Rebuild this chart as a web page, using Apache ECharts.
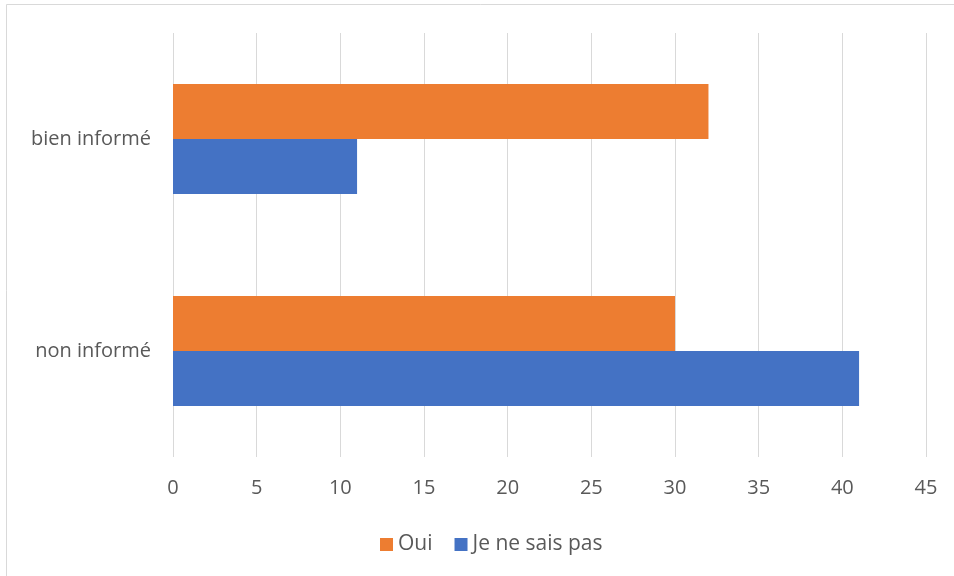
<!DOCTYPE html>
<html><head><meta charset="utf-8">
<script src="https://cdn.jsdelivr.net/npm/echarts@6/dist/echarts.min.js"></script>
<style>html,body{margin:0;padding:0;background:#fff}#c{width:954px;height:576px}</style>
</head><body><div id="c"></div>
<script>
const categories = ['non informé', 'bien informé'];
const seriesNames = ['Oui', 'Je ne sais pas'];
const ouiValues = [30, 32];
const jnspValues = [41, 11];
const xTicks = [0, 5, 10, 15, 20, 25, 30, 35, 40, 45];

const chart = echarts.init(document.getElementById('c'), null, {renderer: 'canvas'});
const font = 'Open Sans';
chart.setOption({
  animation: false,
  backgroundColor: '#fff',
  graphic: [{
    type: 'rect', shape: {x: 6.5, y: 4.5, width: 1000, height: 1000},
    style: {fill: 'none', stroke: '#d9d9d9', lineWidth: 1}, silent: true
  }],
  grid: {left: 173, right: 28, top: 33, bottom: 119, containLabel: false},
  legend: {
    data: seriesNames, top: 529, left: 375,
    itemWidth: 13, itemHeight: 13, itemGap: 22, icon: 'rect',
    textStyle: {color: '#595959', fontSize: 21, fontFamily: font}
  },
  xAxis: {
    type: 'value', min: 0, max: 45, interval: 5,
    axisLine: {show: false}, axisTick: {show: false},
    splitLine: {lineStyle: {color: '#d9d9d9', width: 1}},
    axisLabel: {color: '#595959', fontSize: 20, fontFamily: font, margin: 21,
      formatter: v => String(xTicks[xTicks.indexOf(v)])}
  },
  yAxis: {
    type: 'category', data: categories,
    axisLine: {show: false}, axisTick: {show: false},
    axisLabel: {color: '#595959', fontSize: 20, fontFamily: font, margin: 22}
  },
  series: [
    {name: 'Oui', type: 'bar', data: ouiValues, itemStyle: {color: '#ED7D31'},
      barGap: '0%', barCategoryGap: '48%'},
    {name: 'Je ne sais pas', type: 'bar', data: jnspValues, itemStyle: {color: '#4472C4'},
      barGap: '0%', barCategoryGap: '48%'}
  ]
});
</script></body></html>
